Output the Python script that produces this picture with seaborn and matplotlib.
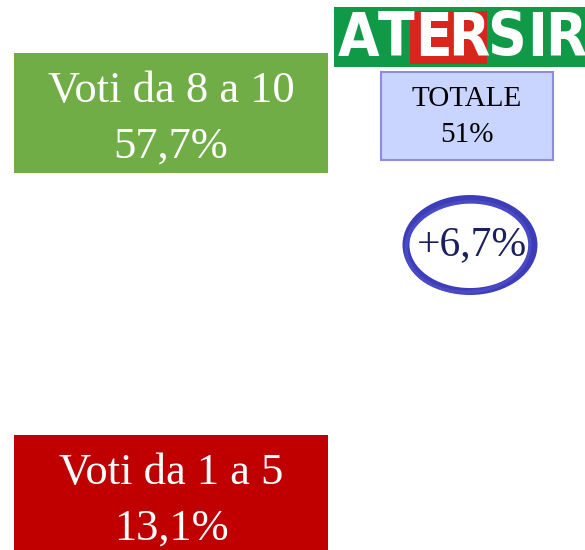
import matplotlib
matplotlib.use("Agg")
import matplotlib.pyplot as plt
from matplotlib.patches import Rectangle, Ellipse
import seaborn as sns

# data
vote_labels = ["Voti da 8 a 10", "Voti da 1 a 5"]
vote_values = ["57,7%", "13,1%"]
vote_colors = ["#70AD47", "#C00000"]
total_label = "TOTALE"
total_value = "51%"
delta_value = "+6,7%"
logo_letters = list("ATERSIR")

sns.set_theme(style="white")
plt.rcParams["font.family"] = ["Liberation Serif", "DejaVu Serif"]

fig = plt.figure(figsize=(5.85, 5.5), dpi=100)
ax = fig.add_axes([0, 0, 1, 1])
ax.set_xlim(0, 585)
ax.set_ylim(550, 0)
ax.axis("off")

# vote boxes
box_tops = [53, 435]
for lab, val, col, top in zip(vote_labels, vote_values, vote_colors, box_tops):
    ax.add_patch(Rectangle((14, top), 314, 120, facecolor=col, edgecolor="none"))
    ax.text(171, top + 66, f"{lab}\n{val}", color="white", fontsize=32,
            ha="center", va="center", linespacing=1.5)

# logo
ax.add_patch(Rectangle((334, 7), 251, 60, facecolor="#109A47", edgecolor="none"))
ax.add_patch(Rectangle((410, 11), 77, 53, facecolor="#D8261C", edgecolor="none"))
letter_x = [359, 396, 433, 469, 507, 537, 566]
for ch, x in zip(logo_letters, letter_x):
    ax.text(x, 39, ch, color="white", fontsize=43, fontweight="bold",
            family="DejaVu Sans", fontstretch="condensed",
            ha="center", va="center")

# totale box
ax.add_patch(Rectangle((381, 72), 172, 88, facecolor="#C9D5FF",
                       edgecolor="#8C8CE0", linewidth=1.5))
ax.text(467, 117, f"{total_label}\n{total_value}", color="black", fontsize=21,
        ha="center", va="center", linespacing=1.5)

# circled delta
ax.add_patch(Ellipse((470, 245), 128, 93, facecolor="none",
                     edgecolor="#3D3DBA", linewidth=5))
ax.add_patch(Ellipse((468, 247), 124, 90, angle=-4, facecolor="none",
                     edgecolor="#4A4AC4", linewidth=2.5))
ax.text(472, 245, delta_value, color="#1B1F5E", fontsize=30,
        ha="center", va="center")

fig.savefig("out.png", dpi=100)
